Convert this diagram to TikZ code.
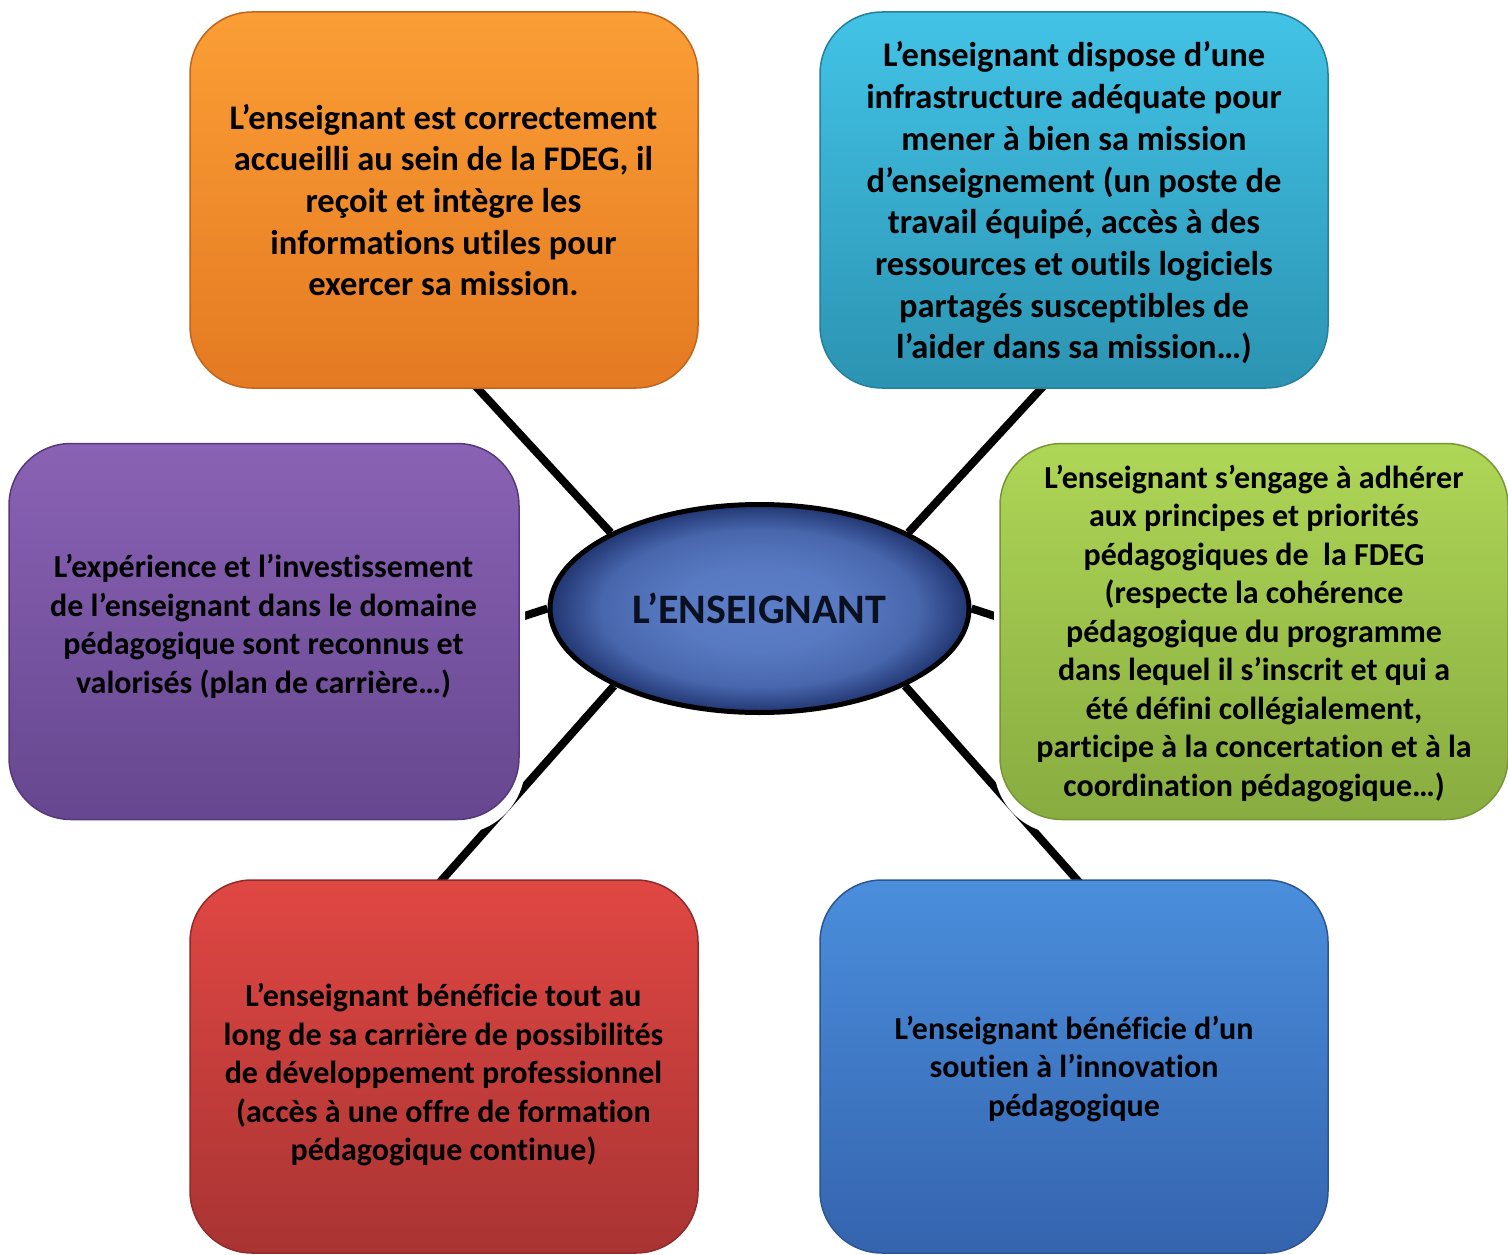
\documentclass[tikz,border=0pt]{standalone}
\usepackage{fontspec}
\setmainfont{Carlito}[Ligatures={NoCommon,NoContextual,NoRequired}]
\usetikzlibrary{shapes.geometric}
\pgfdeclarelayer{bg}
\pgfdeclarelayer{links}
\pgfsetlayers{bg,links,main}
\definecolor{oT}{HTML}{FB9E35}
\definecolor{oB}{HTML}{E47A22}
\definecolor{oD}{HTML}{C2651C}
\definecolor{cT}{HTML}{42C3E6}
\definecolor{cB}{HTML}{2C93B2}
\definecolor{cD}{HTML}{26809C}
\definecolor{pT}{HTML}{8A62B5}
\definecolor{pB}{HTML}{66478F}
\definecolor{pD}{HTML}{55397A}
\definecolor{gT}{HTML}{AED656}
\definecolor{gB}{HTML}{88AC40}
\definecolor{gD}{HTML}{779737}
\definecolor{rT}{HTML}{E04743}
\definecolor{rB}{HTML}{A93433}
\definecolor{rD}{HTML}{902B2A}
\definecolor{bT}{HTML}{4A8EDC}
\definecolor{bB}{HTML}{3564AE}
\definecolor{bD}{HTML}{2C5594}
\definecolor{eA}{HTML}{5B7EC8}
\definecolor{eB}{HTML}{587AC2}
\definecolor{eC}{HTML}{4866AC}
\definecolor{eD}{HTML}{213672}
\definecolor{eTxt}{HTML}{0B1020}
\pgfdeclareradialshading{ensshade}{\pgfpoint{0bp}{0bp}}{color(0bp)=(eA); color(10bp)=(eB); color(19bp)=(eC); color(25bp)=(eD); color(50bp)=(eD)}
\begin{document}
\begin{tikzpicture}[x=1pt,y=-1pt,
  card/.style={rectangle, rounded corners=62pt, minimum width=508pt,
    minimum height=376pt, inner sep=0pt, line width=1.5pt},
  halo/.style={fill=white, rounded corners=68pt},
  cardtxt/.style={align=center, inner sep=0pt, text=black,
    font=\fontsize{32}{38.5}\selectfont\bfseries},
  cardtxtw/.style={cardtxt, font=\fontsize{34.5}{41.7}\selectfont\bfseries},
  link/.style={line width=8pt, black}]
\useasboundingbox (0,0) rectangle (1508,1255);

% boxes
\node[card, top color=oT, bottom color=oB, draw=oD] (orange) at (444,200) {};
\node[card, top color=cT, bottom color=cB, draw=cD] (cyan) at (1074,200) {};
\node[card, top color=rT, bottom color=rB, draw=rD, minimum height=373pt] (red) at (444,1066.5) {};
\node[card, top color=bT, bottom color=bB, draw=bD, minimum height=373pt] (blue) at (1074,1066.5) {};
% soft white glow of the side boxes (hides the connectors near them)
\fill[halo] (3,445) rectangle (525,834);
\fill[halo] (994,445) rectangle (1514,834);
\node[card, top color=pT, bottom color=pB, draw=pD, minimum width=510pt] (purple) at (264,631.5) {};
\node[card, top color=gT, bottom color=gB, draw=gD] (green) at (1254,631.5) {};

% texts
\node[cardtxtw] (torange) at (443.5,200) {L’enseignant est correctement\\accueilli au sein de la FDEG, il\\reçoit et intègre les\\informations utiles pour\\exercer sa mission.};
\node[cardtxtw] (tcyan) at (1074,203) {L’enseignant dispose d’une\\infrastructure adéquate pour\\mener à bien sa mission\\d’enseignement (un poste de\\travail équipé, accès à des\\ressources et outils logiciels\\partagés susceptibles de\\l’aider dans sa mission…)};
\node[cardtxt] (tpurple) at (263.5,626.5) {L’expérience et l’investissement\\de l’enseignant dans le domaine\\pédagogique sont reconnus et\\valorisés (plan de carrière…)};
\node[cardtxt] (tgreen) at (1254,633.5) {L’enseignant s’engage à adhérer\\aux principes et priorités\\pédagogiques de\ \ la FDEG\\(respecte la cohérence\\pédagogique du programme\\dans lequel il s’inscrit et qui a\\été défini collégialement,\\participe à la concertation et à la\\coordination pédagogique…)};
\node[cardtxt] (tred) at (443.5,1075) {L’enseignant bénéficie tout au\\long de sa carrière de possibilités\\de développement professionnel\\(accès à une offre de formation\\pédagogique continue)};
\node[cardtxt] (tblue) at (1074,1069) {L’enseignant bénéficie d’un\\soutien à l’innovation\\pédagogique};

% centre
\node[ellipse, minimum width=419pt, minimum height=208pt, inner sep=0pt,
  draw=black, line width=5pt, shading=ensshade,
  text=eTxt, font=\fontsize{42}{50}\selectfont\bfseries] (ens) at (759.5,608.5) {L’ENSEIGNANT};

% background and connectors (behind everything)
\begin{pgfonlayer}{bg}
\fill[white] (0,0) rectangle (1508,1255);
\end{pgfonlayer}
\begin{pgfonlayer}{links}
\coordinate (p1) at (470,380);
\coordinate (p2) at (1049,380);
\coordinate (p3) at (512,620);
\coordinate (p4) at (1007,620);
\coordinate (p5) at (433,890);
\coordinate (p6) at (1086,890);
\draw[link] (p1) -- (ens.153);
\draw[link] (p2) -- (ens.27);
\draw[link] (p3) -- (ens.180);
\draw[link] (p4) -- (ens.0);
\draw[link] (p5) -- (ens.208);
\draw[link] (p6) -- (ens.332);
\end{pgfonlayer}
\end{tikzpicture}
\end{document}
